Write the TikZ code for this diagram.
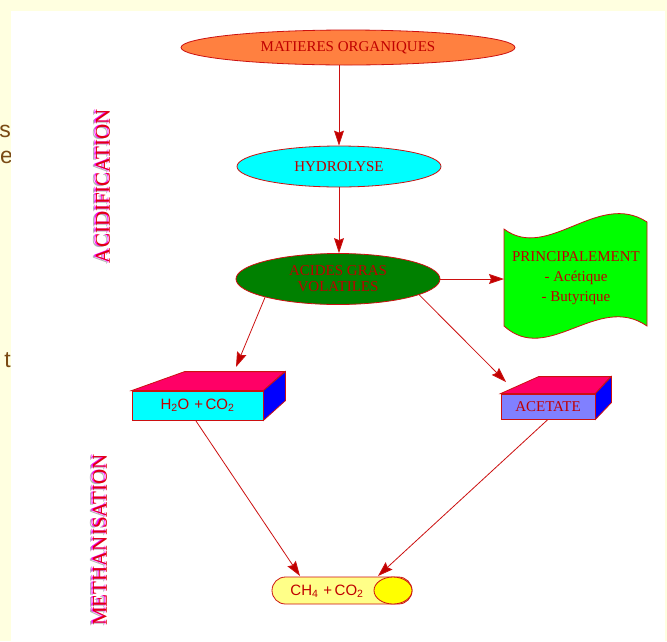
\documentclass[tikz,border=0pt]{standalone}
\usepackage{fontspec}
\setmainfont{Liberation Serif}
\newfontfamily\arialf{Liberation Sans}
\usetikzlibrary{shapes.geometric,arrows.meta}
\definecolor{bgyellow}{HTML}{FFFFE0}
\definecolor{lred}{HTML}{CC1010}
\definecolor{tred}{HTML}{C00000}
\definecolor{orangef}{HTML}{FF8040}
\definecolor{cyanf}{HTML}{00FFFF}
\definecolor{darkg}{HTML}{008000}
\definecolor{brightg}{HTML}{00FF00}
\definecolor{topmag}{HTML}{FF0066}
\definecolor{lav}{HTML}{8080FF}
\definecolor{capy}{HTML}{FFFF88}
\definecolor{yellowf}{HTML}{FFFF00}
\definecolor{bluef}{HTML}{0000FF}
\definecolor{magf}{HTML}{FF00FF}
\definecolor{redf}{HTML}{E00010}
\definecolor{brownt}{HTML}{7A4A14}
\begin{document}
\begin{tikzpicture}[x=1pt,y=-1pt,
  ell/.style={ellipse, draw=lred, line width=0.8pt, inner sep=0pt, text=tred,
     font=\fontsize{15}{15}\selectfont, align=center},
  arr/.style={draw=lred, line width=0.8pt, -{Stealth[length=15pt,width=10pt,inset=2pt,fill=tred]}},
  face/.style={draw=lred, line width=0.8pt},
  vtxt/.style={rotate=90, font=\fontsize{21}{21}\selectfont, inner sep=0pt},
  frag/.style={text=brownt, font=\arialf\fontsize{23}{23}\selectfont, inner sep=0pt, anchor=base east}
]
\useasboundingbox (0,0) rectangle (667,641);
\fill[bgyellow] (0,0) rectangle (667,641);
\node[frag] (f1) at (11,137) {s};
\node[frag] (f2) at (13,163) {le};
\node[frag] (f3) at (11,367) {t};
\fill[white] (11,11) rectangle (665,641);

% vertical labels
\node[vtxt, text=gray!60] at (100,187) {ACIDIFICATION};
\node[vtxt, text=magf] at (101.5,186) {ACIDIFICATION};
\node[vtxt, text=redf] (acid) at (103,186) {ACIDIFICATION};
\node[vtxt, text=gray!60] at (97,541) {METHANISATION};
\node[vtxt, text=magf] at (98.5,540) {METHANISATION};
\node[vtxt, text=redf] (meth) at (100,540) {METHANISATION};

% ellipses
\node[ell, fill=orangef, minimum width=334, minimum height=35] (mo) at (348,47.5) {MATIERES ORGANIQUES};
\node[ell, fill=cyanf, minimum width=204, minimum height=41] (hy) at (339,166.5) {HYDROLYSE};
\node[ell, fill=darkg, minimum width=204, minimum height=51, font=\fontsize{15}{16}\selectfont] (agv) at (338,279) {ACIDES GRAS\\VOLATILES};

% wave shape
\filldraw[face, fill=brightg] (504,229) .. controls (548,262) and (598,190) .. (647,222)
  -- (647,326) .. controls (598,292) and (548,366) .. (504,326) -- cycle;
\node[text=tred, font=\fontsize{15}{20}\selectfont, align=center, inner sep=0pt] (pr) at (576,278)
  {PRINCIPALEMENT\\- Acétique\\- Butyrique};
\coordinate (prl) at (504,279);

% H2O box
\node[face, fill=cyanf, minimum width=131, minimum height=29, inner sep=0pt, text=tred,
   font=\arialf\fontsize{15}{15}\selectfont] (h2o) at (197.5,405.5) {H\textsubscript{2}O\,\,+\,CO\textsubscript{2}};
\filldraw[face, fill=topmag] (h2o.north west) -- ++(53,-19) -- ++(100,0) -- (h2o.north east) -- cycle;
\filldraw[face, fill=bluef] (h2o.north east) -- ++(22,-19) -- ++(0,29) -- (h2o.south east) -- cycle;

% ACETATE box
\node[face, fill=lav, minimum width=94, minimum height=25, inner sep=0pt, text=tred,
   font=\fontsize{15}{15}\selectfont] (ace) at (548,406.5) {ACETATE};
\filldraw[face, fill=topmag] (ace.north west) -- ++(38,-17) -- ++(72,0) -- (ace.north east) -- cycle;
\filldraw[face, fill=bluef] (ace.north east) -- ++(16,-17) -- ++(0,26) -- (ace.south east) -- cycle;

% CH4 capsule
\filldraw[face, fill=capy, rounded corners=13.5pt] (272,577) rectangle (412,604);
\filldraw[face, fill=yellowf] (393,590.5) ellipse [x radius=19, y radius=13.5];
\node[text=tred, font=\arialf\fontsize{15}{15}\selectfont, inner sep=0pt] (ch4) at (327,591) {CH\textsubscript{4}\,\,+\,CO\textsubscript{2}};

% tips
\coordinate (t1) at (236,367);
\coordinate (t2) at (506,382);
\coordinate (t3) at (300,576);
\coordinate (t4) at (378,576);

% arrows
\draw[arr] (hy.north |- mo.south) -- (hy.north);
\draw[arr] (hy.south) -- (hy.south |- agv.north);
\draw[arr] (agv.east) -- (prl);
\draw[arr] (agv.194) -- (t1);
\draw[arr] (agv.349) -- (t2);
\draw[arr] (h2o.south west) ++(64,0) -- (t3);
\draw[arr] (ace.south) -- (t4);
\end{tikzpicture}
\end{document}
